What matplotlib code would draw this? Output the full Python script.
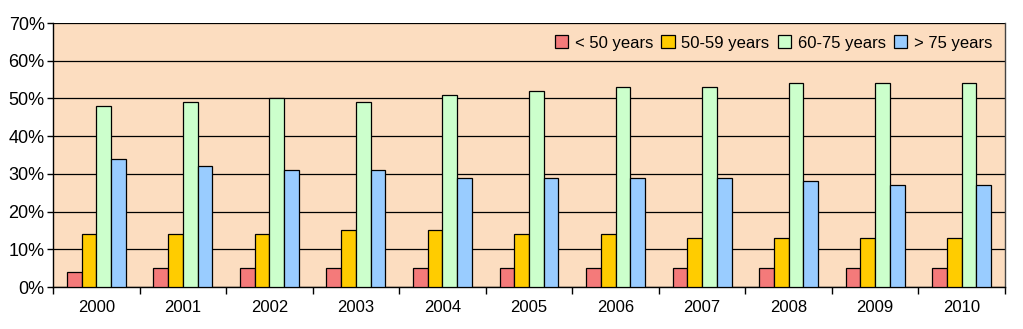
import numpy as np
import matplotlib
matplotlib.use('Agg')
import matplotlib.pyplot as plt
from matplotlib.ticker import FixedLocator

plt.rcParams['font.family'] = ['Liberation Sans', 'DejaVu Sans']

years = ['2000', '2001', '2002', '2003', '2004', '2005', '2006', '2007', '2008', '2009', '2010']
under_50 = [4, 5, 5, 5, 5, 5, 5, 5, 5, 5, 5]
age_50_59 = [14, 14, 14, 15, 15, 14, 14, 13, 13, 13, 13]
age_60_75 = [48, 49, 50, 49, 51, 52, 53, 53, 54, 54, 54]
over_75 = [34, 32, 31, 31, 29, 29, 29, 29, 28, 27, 27]

series = [under_50, age_50_59, age_60_75, over_75]
labels = ['< 50 years', '50-59 years', '60-75 years', '> 75 years']
colors = ['#F47A7A', '#FFCC00', '#CCFFCC', '#99CCFF']

fig = plt.figure(figsize=(10.23, 3.29), dpi=100)
ax = fig.add_axes([53/1023, 1 - 287/329, (1005-53)/1023, (287-23)/329])
ax.set_facecolor('#FCDDC0')

x = np.arange(len(years))
w = 0.17
for i, (vals, lab, col) in enumerate(zip(series, labels, colors)):
    ax.bar(x + (i - 1.5) * w, vals, w, color=col, edgecolor='black', linewidth=0.9, label=lab, zorder=3)

ax.set_xlim(-0.5, len(years) - 0.5)
ax.set_ylim(0, 70)
ax.set_yticks(range(0, 71, 10))
ax.set_yticklabels([f'{v}%' for v in range(0, 71, 10)], fontsize=13)
ax.yaxis.grid(True, color='black', linewidth=0.9, zorder=0)
ax.set_axisbelow(True)

ax.set_xticks(x)
ax.set_xticklabels(years, fontsize=12)
ax.xaxis.set_minor_locator(FixedLocator(np.arange(-0.5, len(years), 1)))
ax.tick_params(axis='x', which='major', length=0, pad=9)
ax.tick_params(axis='x', which='minor', length=5, direction='out', width=1)
ax.tick_params(axis='y', length=4, width=1, pad=2)

ax.spines['top'].set_visible(False)
for s in ['left', 'bottom', 'right']:
    ax.spines[s].set_linewidth(1.0)
ax.spines['right'].set_color('#444444')

leg = ax.legend(loc='upper right', ncol=4, frameon=False, fontsize=12,
                handlelength=0.8, handleheight=0.8, handletextpad=0.4,
                columnspacing=0.5, borderaxespad=0.35, bbox_to_anchor=(1.0, 1.0))

fig.savefig('out.png', dpi=100, facecolor='white')
